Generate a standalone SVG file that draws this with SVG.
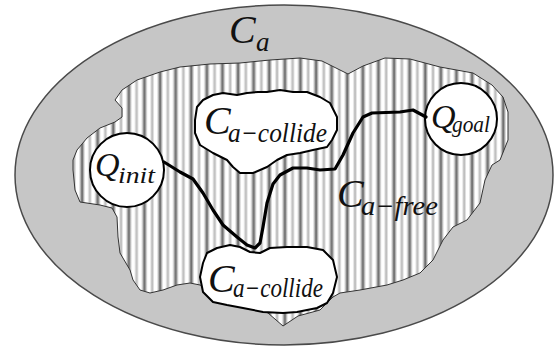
<svg xmlns="http://www.w3.org/2000/svg" width="557" height="350" viewBox="0 0 557 350">
<defs>
<linearGradient id="gd" x1="0" y1="0" x2="1" y2="0">
<stop offset="0" stop-color="#ffffff"/>
<stop offset="0.2" stop-color="#cfcfcf"/>
<stop offset="0.5" stop-color="#5a5a5a"/>
<stop offset="0.8" stop-color="#cfcfcf"/>
<stop offset="1" stop-color="#ffffff"/>
</linearGradient>
<linearGradient id="gl" x1="0" y1="0" x2="1" y2="0">
<stop offset="0" stop-color="#ffffff"/>
<stop offset="0.5" stop-color="#b0b0b0"/>
<stop offset="1" stop-color="#ffffff"/>
</linearGradient>
<pattern id="stripes" patternUnits="userSpaceOnUse" x="0" y="0" width="15.6" height="20">
<rect width="15.6" height="20" fill="#ffffff"/>
<rect x="0.8" width="6.5" height="20" fill="url(#gd)"/>
<rect x="9.6" width="4.4" height="20" fill="url(#gl)"/>
</pattern>
</defs>
<style>
text{font-family:"Liberation Serif","DejaVu Serif",serif;font-style:italic;fill:#111}
.big{font-size:40px}
.sub{font-size:27px}
.qbig{font-size:34px}
.qsub{font-size:24px}
.blob{fill:#ffffff;stroke:#000;stroke-width:2;stroke-linejoin:round}
.node{fill:#ffffff;stroke:#000;stroke-width:2}
.path{fill:none;stroke:#000;stroke-width:3.2;stroke-linejoin:round;stroke-linecap:round}
</style>
<rect width="557" height="350" fill="#ffffff"/>
<g id="space">
<ellipse cx="284" cy="175" rx="269" ry="170" fill="#c6c6c6" stroke="#4a4a4a" stroke-width="1.5"/>
<text class="big" x="229" y="43">C<tspan class="sub" x="256" y="51">a</tspan></text>
</g>
<g id="free">
<path d="M115,100 L122,90 L137,80 L160,72 L180,67 L210,64 L240,63 L270,60 L300,58 L322,61 L336,68 L348,74 L363,66 L385,58 L410,59 L440,67 L473,73 L492,85 L503,97 L508,112 L508,140 L500,160 L492,165 L485,180 L480,203 L467,220 L453,227 L443,240 L433,260 L420,273 L403,280 L387,285 L360,290 L340,293 L333,297 L320,310 L298,316 L283,326 L268,313 L250,305 L200,285 L190,283 L177,285 L163,290 L150,293 L140,290 L133,280 L130,270 L120,253 L118,237 L117,217 L112,208 L100,205 L80,202 L75,190 L73,170 L73,160 L77,150 L87,138 L100,128 L115,122 L122,117 L122,108 Z" fill="url(#stripes)" stroke="#333" stroke-width="1"/>
<text class="big" x="337" y="207">C<tspan class="sub" x="361" y="215" textLength="77" lengthAdjust="spacingAndGlyphs">a−free</tspan></text>
</g>
<g id="collide-upper">
<path class="blob" d="M195,120 L197,107 L203,100 L213,95 L223,93 L237,95 L247,93 L258,92 L267,92 L280,90 L293,92 L307,92 L320,97 L330,103 L337,117 L337,130 L332,140 L327,147 L313,150 L300,153 L287,155 L277,160 L267,167 L253,173 L240,173 L233,167 L227,160 L213,153 L200,145 L195,133 Z"/>
<text class="big" x="204" y="134">C<tspan class="sub" x="228" y="142" textLength="99" lengthAdjust="spacingAndGlyphs">a−collide</tspan></text>
</g>
<g id="collide-lower">
<path class="blob" d="M200,277 L203,263 L207,253 L217,248 L230,245 L240,247 L250,252 L260,253 L270,248 L287,247 L307,247 L323,250 L333,260 L337,277 L333,293 L327,303 L317,308 L297,312 L283,313 L263,312 L243,308 L227,305 L213,302 L203,292 Z"/>
<text class="big" x="208" y="292">C<tspan class="sub" x="233" y="297" textLength="90" lengthAdjust="spacingAndGlyphs">a−collide</tspan></text>
</g>
<g id="qinit">
<circle class="node" cx="127" cy="170" r="37"/>
<text class="qbig" x="95" y="176">Q<tspan class="qsub" x="118" y="183" textLength="37" lengthAdjust="spacingAndGlyphs">init</tspan></text>
</g>
<g id="qgoal">
<circle class="node" cx="461" cy="119" r="36"/>
<text class="qbig" x="431" y="128">Q<tspan class="qsub" x="452" y="132" textLength="38" lengthAdjust="spacingAndGlyphs">goal</tspan></text>
</g>
<g id="connectors">
<path class="path" d="M164,162 L180,172 L193,179 L203,193 L213,210 L223,225 L237,237 L247,245 L255,248 L260,243 L263,227 L267,203 L273,184 L280,175 L293,168 L307,168 L320,170 L335,169 L343,155 L353,133 L363,117 L372,113 L400,112 L413,110 L426,117"/>
</g>
</svg>
